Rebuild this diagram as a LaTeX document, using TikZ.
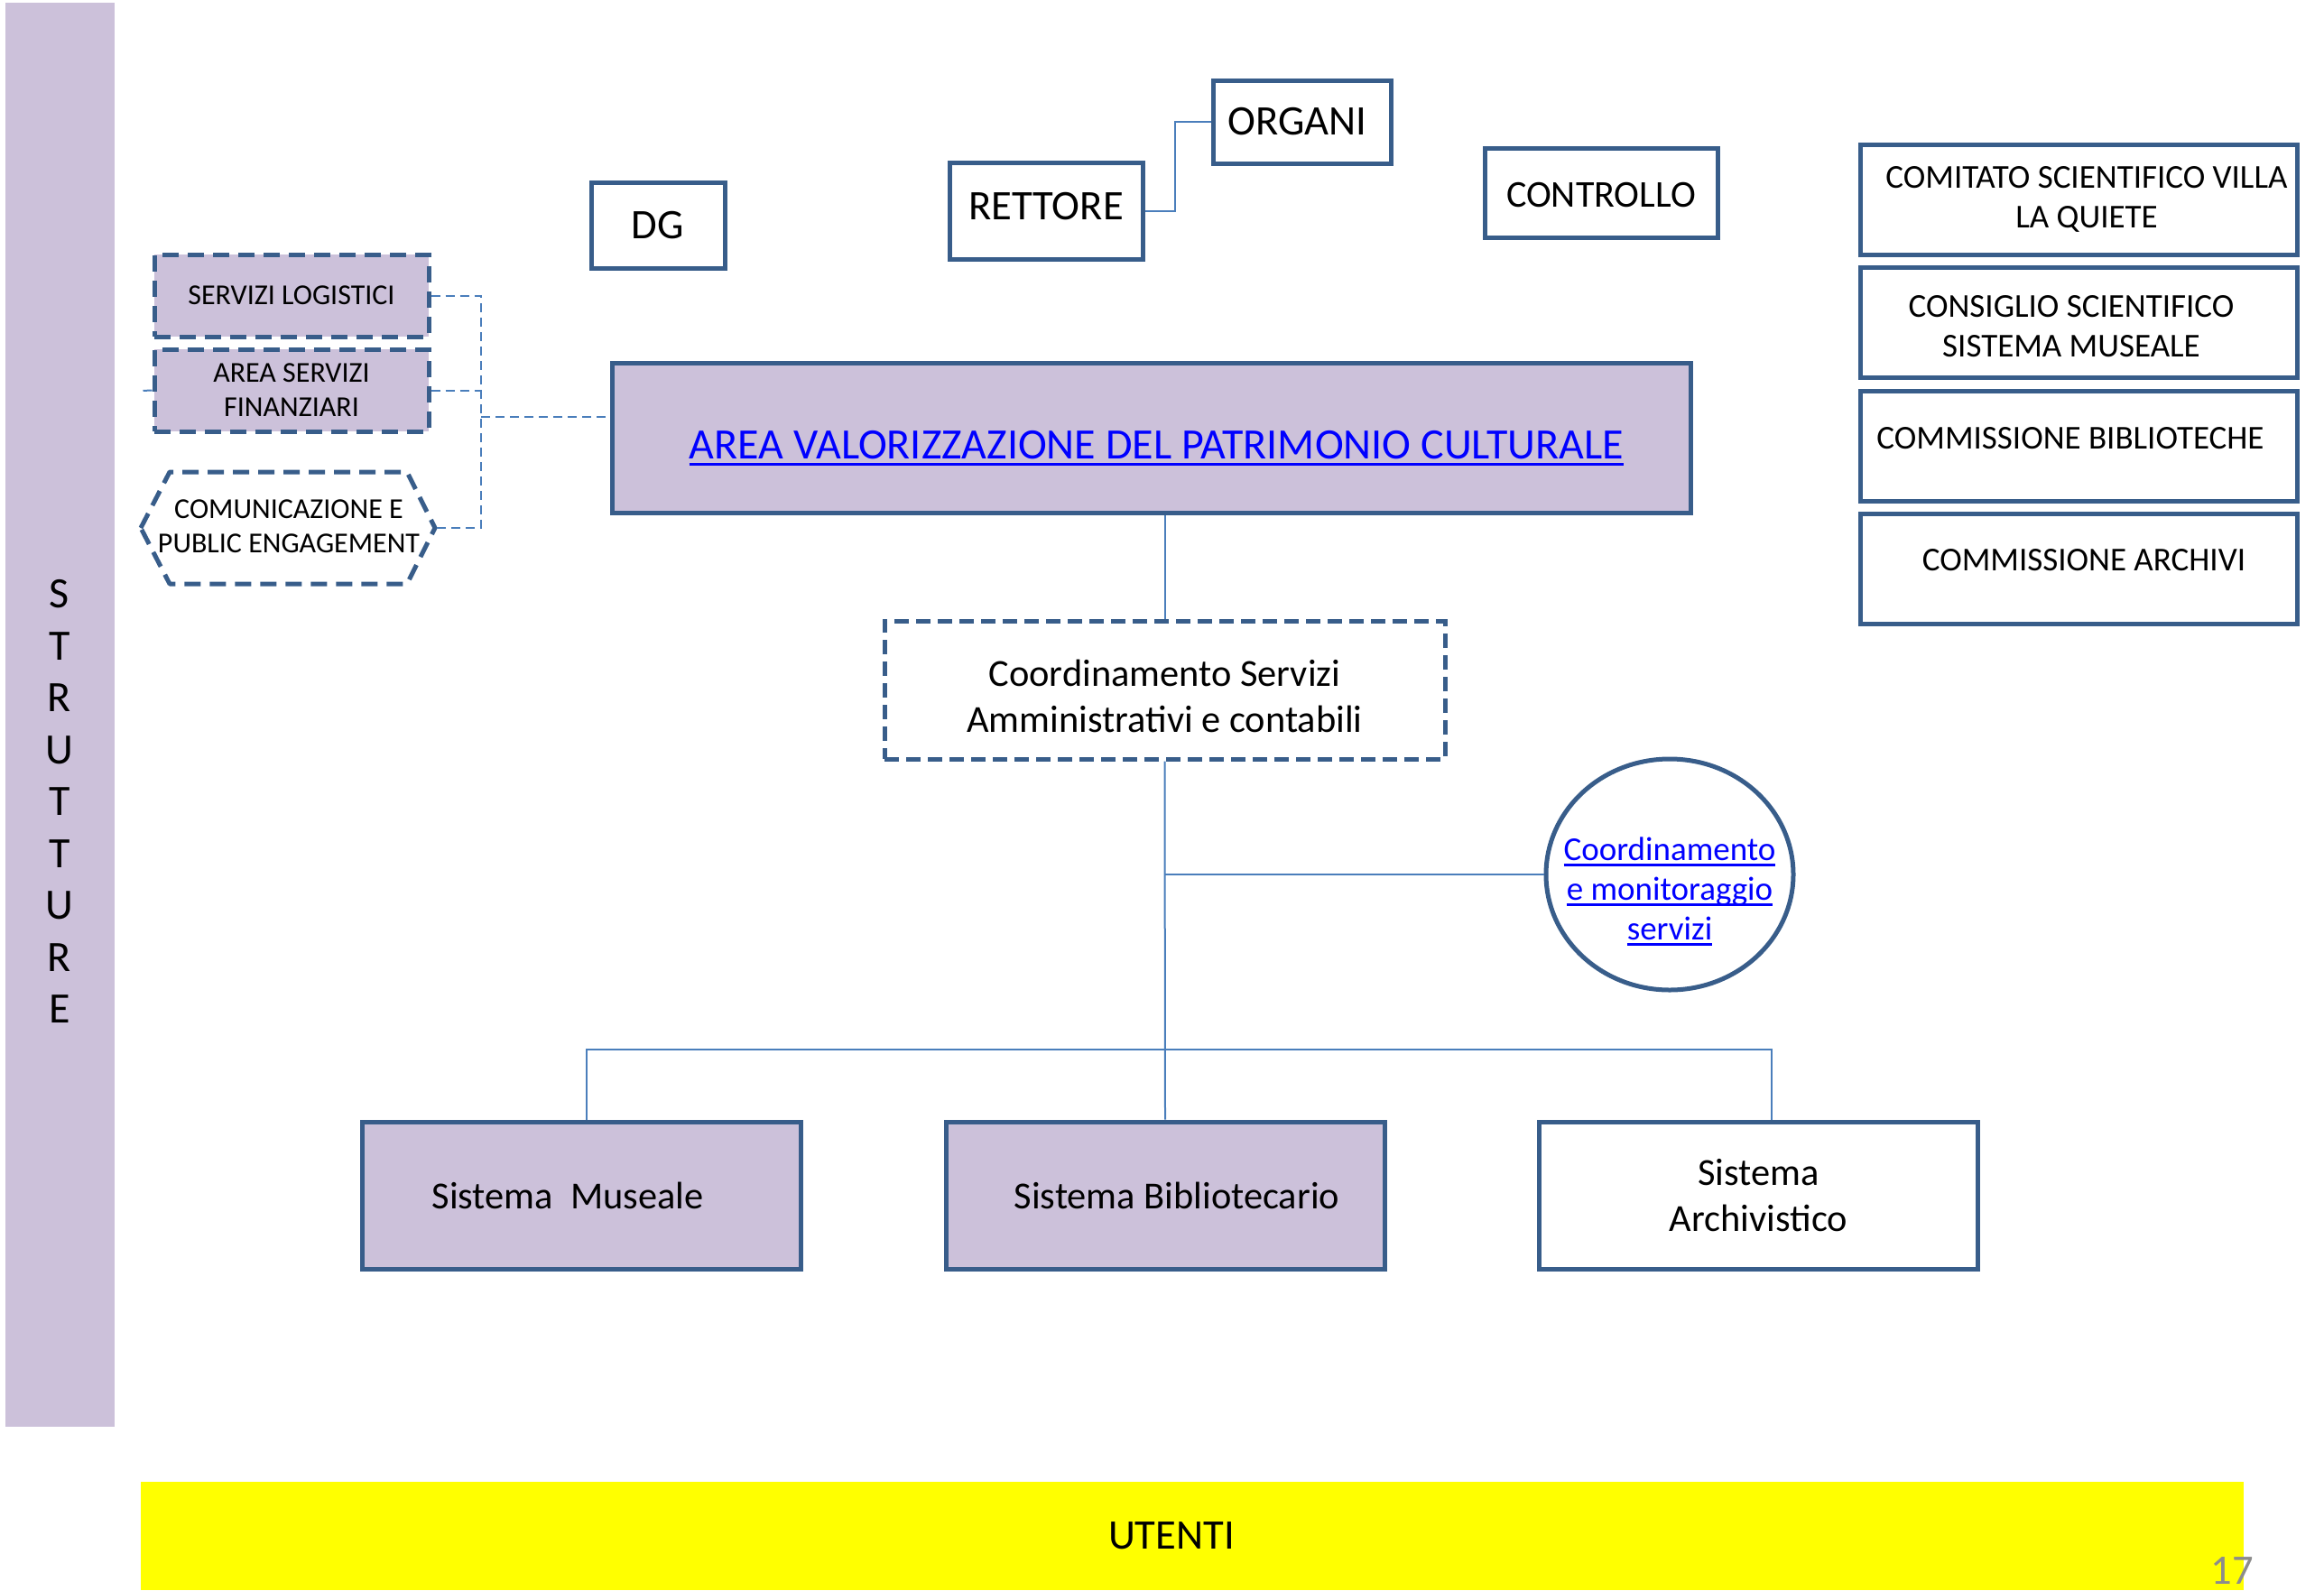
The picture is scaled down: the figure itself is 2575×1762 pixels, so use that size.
\documentclass[tikz,border=0pt]{standalone}
\usepackage{fontspec}
\setmainfont{Carlito}
\newcommand{\lnkul}[1]{\setbox0=\hbox{#1}\rlap{\rule[-0.16em]{\wd0}{0.065em}}\box0}
\usetikzlibrary{shapes.geometric}
\definecolor{bord}{HTML}{385D8A}
\definecolor{lilac}{HTML}{CCC1DA}
\definecolor{connc}{HTML}{4A7EBB}
\definecolor{linkblue}{HTML}{0000FF}
\definecolor{pgnum}{HTML}{8C8C8C}
\definecolor{ybar}{HTML}{FFFF00}
\begin{document}
\begin{tikzpicture}[x=0.5pt,y=-0.5pt,
  box/.style={draw=bord, line width=2.5pt, inner sep=0pt, align=center, fill=white},
  dbox/.style={box, dash pattern=on 9pt off 5pt},
  lil/.style={fill=lilac},
  conn/.style={draw=connc, line width=1pt},
  dconn/.style={conn, dash pattern=on 5pt off 3pt},
  rbox/.style={box, minimum width=242pt, minimum height=61pt, fSmall},
  lbox/.style={dbox, lil, minimum width=152pt, minimum height=45.5pt, fLeft},
  sbox/.style={box, minimum width=243pt, minimum height=81.5pt, fMid},
  fTop/.style={font=\fontsize{23.3}{28}\selectfont},
  fCtl/.style={font=\fontsize{21}{26}\selectfont},
  fSmall/.style={font=\fontsize{18.5}{22}\selectfont},
  fLeft/.style={font=\fontsize{16}{19}\selectfont},
  fHex/.style={font=\fontsize{16}{19}\selectfont},
  fMain/.style={font=\fontsize{24}{28}\selectfont},
  fMid/.style={font=\fontsize{21.2}{25.5}\selectfont},
  fCirc/.style={font=\fontsize{18.5}{22}\selectfont},
]
\useasboundingbox (0,0) rectangle (2575,1762);

% left bar and yellow bar
\node[fill=lilac, inner sep=0pt, minimum width=60.5pt, minimum height=789pt] (bar) at (66.5,792) {};
\node[font=\fontsize{24}{28.75}\selectfont, align=center, inner sep=0pt] (strlab) at (66,888) {S\\T\\R\\U\\T\\T\\U\\R\\E};
\node[fill=ybar, inner sep=0pt, minimum width=1165pt, minimum height=60pt, fTop] (utenti) at (1321,1702) {UTENTI\hspace*{23pt}};
\node[text=pgnum, fTop, inner sep=0pt] (pg) at (2473,1740) {17};

% top boxes
\node[box, minimum width=74pt, minimum height=47.5pt, fTop] (dg) at (729,249.5) {DG};
\node[box, minimum width=107pt, minimum height=53.5pt, fTop, text depth=5pt] (rett) at (1159,233.5) {RETTORE};
\node[box, minimum width=98.5pt, minimum height=46pt, fTop] (org) at (1442.5,135) {ORGANI\hspace*{5pt}};
\node[box, minimum width=129pt, minimum height=49.5pt, fCtl, text height=16.5pt] (ctrl) at (1774,213.5) {CONTROLLO};
\draw[conn] (rett.east) -| ([xshift=-20pt]org.west) -- (org.west);

% right boxes
\node[rbox] (r1) at (2303,221) {\hspace*{9pt}COMITATO SCIENTIFICO VILLA\\\hspace*{9pt}LA QUIETE};
\node[rbox, label={[fSmall, align=center, yshift=-2.5pt]center:{CONSIGLIO SCIENTIFICO\hspace*{8pt}\\SISTEMA MUSEALE\hspace*{8pt}}}] (r2) at (2303,357) {};
\node[rbox, text depth=9pt] (r3) at (2303,494) {COMMISSIONE BIBLIOTECHE\hspace*{9pt}};
\node[rbox, text depth=10pt] (r4) at (2303,630) {\hspace*{6pt}COMMISSIONE ARCHIVI};

% left dashed boxes
\node[lbox] (sl) at (323,327.5) {SERVIZI LOGISTICI};
\node[lbox] (asf) at (323,432.5) {AREA SERVIZI\\FINANZIARI};
\draw[draw=bord, line width=2.5pt, dash pattern=on 9pt off 5pt, line join=round]
  (156,585) -- (188,523) -- (451,523) -- (482,585) -- (451,647) -- (188,647) -- cycle;
\node[fHex, align=center, inner sep=0pt] (com) at (320,583) {COMUNICAZIONE E\\PUBLIC ENGAGEMENT};
\coordinate (hexR) at (482,585);
\coordinate (vx) at (533,0);
\coordinate (vj) at (533,462);
\coordinate (stub) at (157,433);

% main box
\node[box, lil, minimum width=597.5pt, minimum height=83pt,
  label={[fMain, text=linkblue, yshift=-5.7pt, xshift=3pt]center:{\lnkul{AREA VALORIZZAZIONE DEL PATRIMONIO CULTURALE}}}] (main) at (1275.5,485) {};

% dashed connectors
\draw[dconn] (sl.east) -- (sl.east -| vx) -- (hexR -| vx) -- (hexR);
\draw[dconn] (asf.east) -- (asf.east -| vx);
\draw[dconn] (vj) -- (vj -| main.west);
\draw[dconn] (asf.west) -- (stub);

% coordination
\node[dbox, dash pattern=on 8pt off 4pt, minimum width=310.5pt, minimum height=76.5pt,
  label={[fMid, align=center, yshift=-3.3pt]center:{Coordinamento Servizi\\Amministrativi e contabili}}] (coord) at (1290.5,764.5) {};
\draw[conn] (coord.north) -- (coord.north |- main.south);

\node[box, ellipse, minimum width=137pt, minimum height=128pt,
  label={[fCirc, text=linkblue, align=center, yshift=-9.5pt]center:{\lnkul{Coordinamento}\\\lnkul{e monitoraggio}\\\lnkul{servizi}}}] (circ) at (1850,969) {};

% systems
\node[sbox, lil] (mus) at (644,1324.5) {Sistema\ \ Museale\hspace*{15pt}};
\node[sbox, lil] (bib) at (1291,1324.5) {\hspace*{13pt}Sistema Bibliotecario};
\node[sbox] (arch) at (1948.5,1324.5) {Sistema\\Archivistico};
\coordinate (bus) at (1291,1163);

\draw[conn] (coord.south) -- (bib.north);
\draw[conn] (circ.west) -- (circ.west -| coord.south);
\draw[conn] ([xshift=3pt]mus.north) |- (bus) -| ([xshift=7pt]arch.north);
\end{tikzpicture}
\end{document}
